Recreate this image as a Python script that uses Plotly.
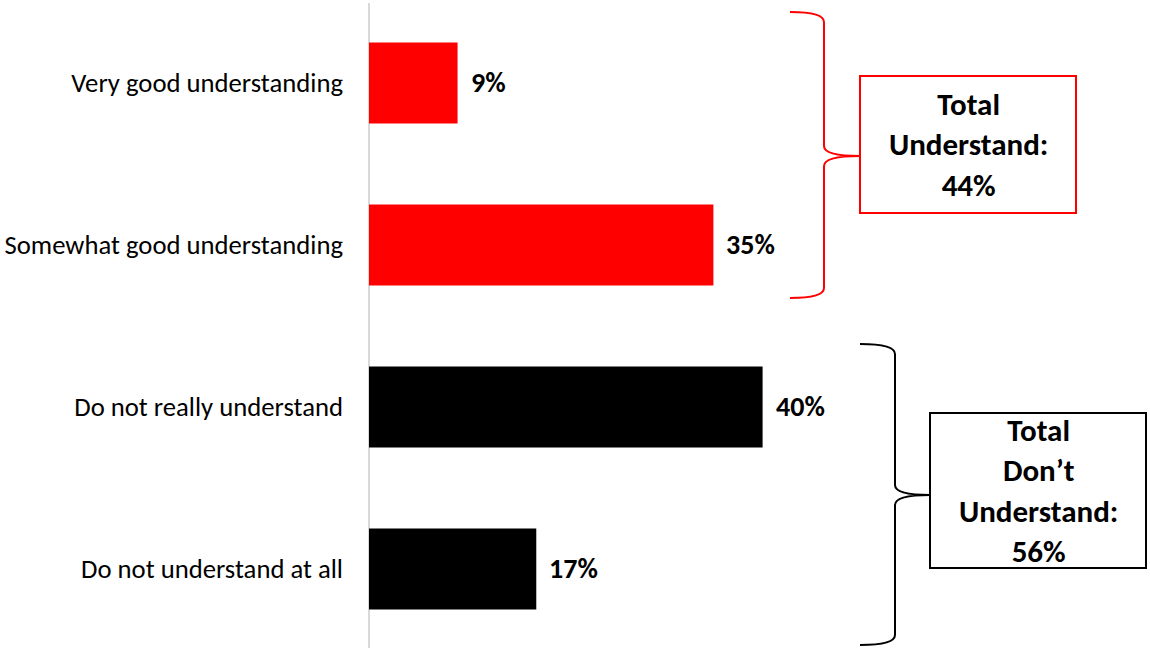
import plotly.graph_objects as go

categories = ["Very good understanding", "Somewhat good understanding",
              "Do not really understand", "Do not understand at all"]
values = [9, 35, 40, 17]
value_labels = ["9%", "35%", "40%", "17%"]
bar_colors = ["#ff0000", "#ff0000", "#000000", "#000000"]

group_labels = ["<b>Total<br>Understand:<br>44%</b>",
                "<b>Total<br>Don’t<br>Understand:<br>56%</b>"]
group_colors = ["#ff0000", "#000000"]

W, H = 1150, 648
L = 369
PW = W - L
FONT = "Carlito, Calibri, Lato, sans-serif"


def px(x):
    return (x - L) / PW


def py(y):
    return 1 - y / H


fig = go.Figure()
fig.add_trace(go.Bar(
    y=categories, x=values, orientation="h",
    marker=dict(color=bar_colors, line=dict(width=0)),
    width=0.5, hoverinfo="skip"
))

for c, v, t in zip(categories, values, value_labels):
    fig.add_annotation(x=v, y=c, xref="x", yref="y", text="<b>%s</b>" % t,
                       showarrow=False, xanchor="left", xshift=11,
                       font=dict(family=FONT, size=28, color="#000"))


def brace(x0, xv, xt, ytop, ymid, ybot, r=10):
    pts = []
    pts.append("M %f,%f" % (px(x0), py(ytop)))
    pts.append("Q %f,%f %f,%f" % (px(xv), py(ytop), px(xv), py(ytop + r)))
    pts.append("L %f,%f" % (px(xv), py(ymid - r)))
    pts.append("Q %f,%f %f,%f" % (px(xv), py(ymid), px(xt), py(ymid)))
    pts.append("Q %f,%f %f,%f" % (px(xv), py(ymid), px(xv), py(ymid + r)))
    pts.append("L %f,%f" % (px(xv), py(ybot - r)))
    pts.append("Q %f,%f %f,%f" % (px(xv), py(ybot), px(x0), py(ybot)))
    return " ".join(pts)


braces = [
    dict(x0=790, xv=824, xt=860, ytop=12, ymid=156, ybot=298),
    dict(x0=860, xv=895, xt=930, ytop=344, ymid=495, ybot=645),
]
boxes = [(860, 76, 1076, 213), (930, 413, 1146, 568)]

for b, bx, col, lab in zip(braces, boxes, group_colors, group_labels):
    fig.add_shape(type="path", path=brace(**b), xref="paper", yref="paper",
                  line=dict(color=col, width=2))
    fig.add_shape(type="rect", xref="paper", yref="paper",
                  x0=px(bx[0]), x1=px(bx[2]), y0=py(bx[3]), y1=py(bx[1]),
                  line=dict(color=col, width=2), fillcolor="white")
    fig.add_annotation(x=px((bx[0] + bx[2]) / 2), y=py((bx[1] + bx[3]) / 2),
                       xref="paper", yref="paper", text=lab, showarrow=False,
                       xanchor="center", yanchor="middle",
                       font=dict(family=FONT, size=31, color="#000"))

fig.add_shape(type="line", xref="paper", yref="paper",
              x0=0, x1=0, y0=0, y1=py(3), layer="below",
              line=dict(color="#d9d9d9", width=2))

fig.update_layout(
    width=W, height=H,
    margin=dict(l=L, r=0, t=0, b=0),
    paper_bgcolor="white", plot_bgcolor="white",
    showlegend=False,
    xaxis=dict(range=[0, PW / 9.84], visible=False, fixedrange=True),
    yaxis=dict(categoryorder="array", categoryarray=categories,
               range=[3.488, -0.512], showgrid=False, zeroline=False,
               showline=False, ticks="", ticklabelstandoff=25,
               tickfont=dict(family=FONT, size=26.7, color="#000")),
)

fig.write_html("out.html", config={"displayModeBar": False},
               post_script="document.body.style.margin='0';document.body.style.overflow='hidden';")
